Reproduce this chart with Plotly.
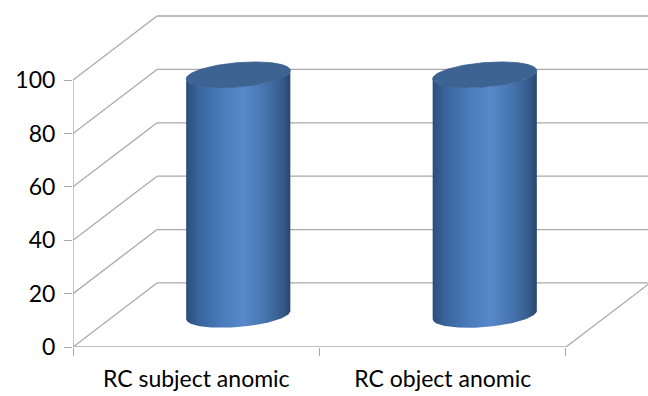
import numpy as np
import plotly.graph_objects as go

# Chart data
categories = ["RC subject anomic", "RC object anomic"]
values = [90, 90]
y_ticks = [0, 20, 40, 60, 80, 100]

# Oblique 3D projection parameters (in axis units)
DEPTH_X = 0.3408      # horizontal shift of the back wall, category units
DEPTH_Y = 24.0        # vertical shift of the back wall, value units
N_CAT = len(categories)
Y_MAX = y_ticks[-1]
RADIUS = 0.2          # cylinder radius, category units
DEPTH_FRAC = 0.2      # cylinder radius as fraction of full depth

LINE = dict(color="#a9a9a9", width=1.3)

fig = go.Figure()


def add_line(xs, ys, line=LINE):
    fig.add_trace(go.Scatter(x=xs, y=ys, mode="lines", line=line,
                             hoverinfo="skip", showlegend=False))


# Back wall gridlines and side wall diagonals
for v in y_ticks:
    add_line([DEPTH_X, N_CAT + DEPTH_X], [v + DEPTH_Y, v + DEPTH_Y])
    add_line([0, DEPTH_X], [v, v + DEPTH_Y])

# Front left edge, front floor edge and right floor edge
add_line([0, 0], [0, Y_MAX])
add_line([0, N_CAT], [0, 0])
add_line([N_CAT, N_CAT + DEPTH_X], [0, DEPTH_Y])

# Cylinders
sx = DEPTH_FRAC * DEPTH_X
sy = DEPTH_FRAC * DEPTH_Y
th0 = np.arctan2(sx, RADIUS)
half_w = np.hypot(RADIUS, sx)
front = np.linspace(th0 + np.pi, th0 + 2 * np.pi, 90)
full = np.linspace(0, 2 * np.pi, 180)

body_scale = [
    [0.0, "#2b4d7a"],
    [0.12, "#3a649c"],
    [0.35, "#4a7bbb"],
    [0.55, "#5789cb"],
    [0.75, "#4775b0"],
    [0.92, "#365c8c"],
    [1.0, "#2a4669"],
]

for i, val in enumerate(values):
    cx = i + 0.5 + 0.5 * DEPTH_X
    cy = 0.5 * DEPTH_Y
    top = cy + val

    bx = cx + RADIUS * np.cos(front) + sx * np.sin(front)
    by = cy + sy * np.sin(front)
    ty = top + sy * np.sin(front)
    xs = np.concatenate([bx, bx[::-1], bx[:1]])
    ys = np.concatenate([by, ty[::-1], by[:1]])
    fig.add_trace(go.Scatter(
        x=xs, y=ys, mode="lines", fill="toself", line=dict(width=0),
        fillgradient=dict(type="horizontal", colorscale=body_scale,
                          start=cx - half_w, stop=cx + half_w),
        hoverinfo="skip", showlegend=False))

    ex = cx + RADIUS * np.cos(full) + sx * np.sin(full)
    ey = top + sy * np.sin(full)
    fig.add_trace(go.Scatter(
        x=ex, y=ey, mode="lines", fill="toself", fillcolor="#3d6393",
        line=dict(width=0.8, color="#385c8a"),
        hoverinfo="skip", showlegend=False))

FONT = dict(family="Lato", size=23, color="#000000")

fig.update_layout(
    width=648, height=396,
    margin=dict(l=73, r=0, t=0, b=49),
    paper_bgcolor="white", plot_bgcolor="white",
    font=FONT,
    showlegend=False,
    xaxis=dict(
        range=[0, 2.3327],
        tickvals=[i + 0.5 for i in range(N_CAT)],
        ticktext=categories,
        ticks="",
        ticklabelstandoff=16,
        showgrid=False, zeroline=False, showline=False,
        minor=dict(tickvals=list(range(N_CAT + 1)), ticks="outside",
                   ticklen=8, tickcolor="#a9a9a9", tickwidth=1.3,
                   showgrid=False),
        tickfont=FONT,
    ),
    yaxis=dict(
        range=[0, 130],
        tickvals=y_ticks,
        ticks="outside", ticklen=8, tickcolor="#a9a9a9", tickwidth=1.3,
        ticklabelstandoff=4,
        showgrid=False, zeroline=False, showline=False,
        tickfont=FONT,
    ),
)

fig.write_html("out.html")
